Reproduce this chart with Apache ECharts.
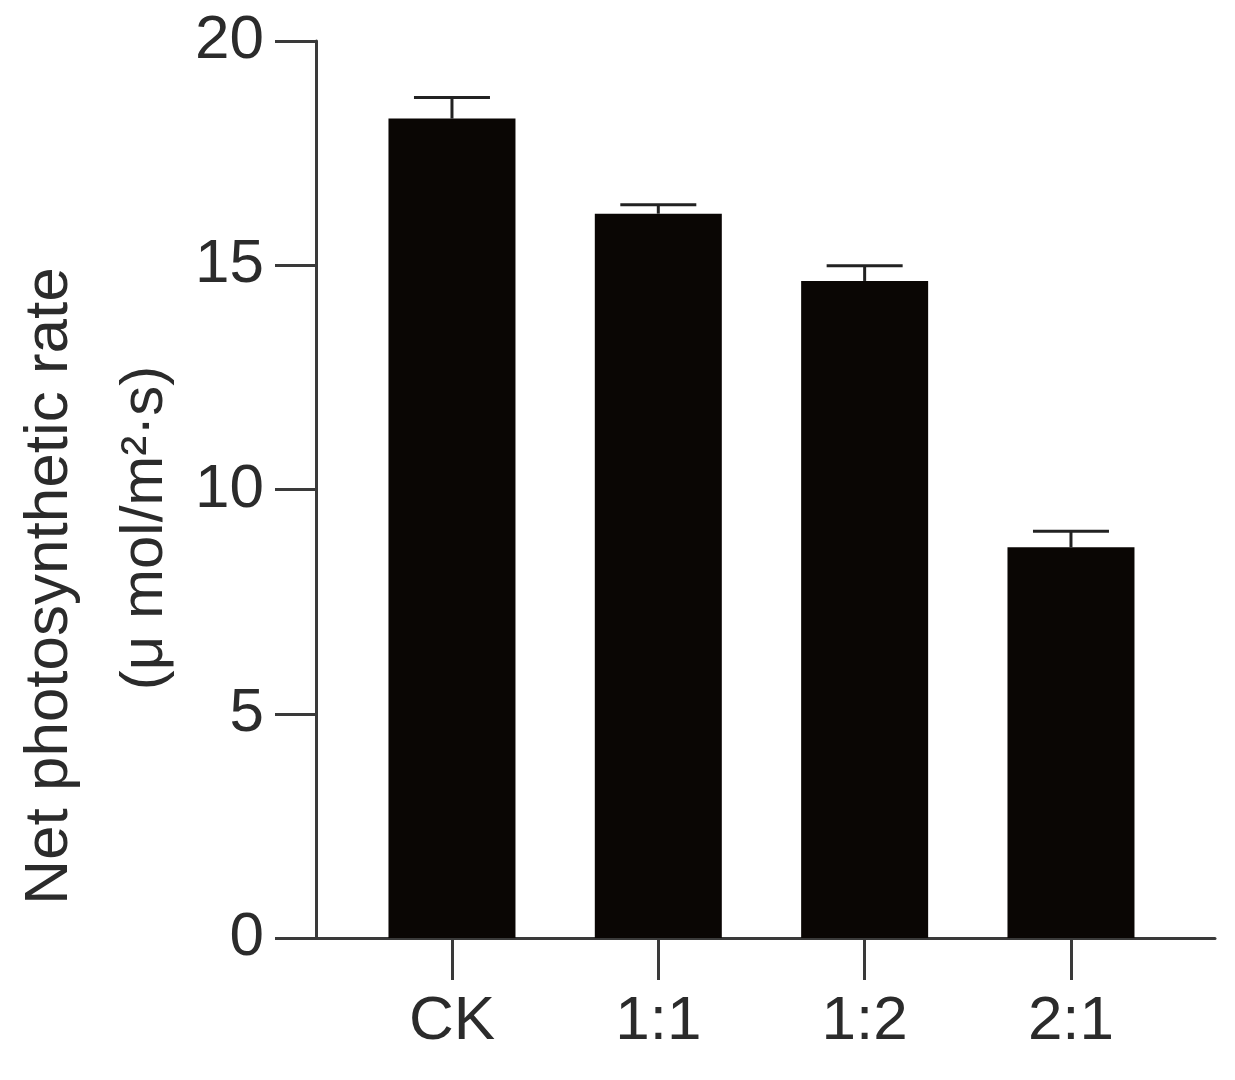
<!DOCTYPE html>
<html>
<head>
<meta charset="utf-8">
<script src="https://cdn.jsdelivr.net/npm/echarts@6/dist/echarts.min.js"></script>
<style>
  html, body { margin: 0; padding: 0; background: #fff; }
  #main { width: 1235px; height: 1080px; }
</style>
</head>
<body>
<div id="main"></div>
<script>
// values
var categories = ['CK', '1:1', '1:2', '2:1'];
var means = [18.27, 16.15, 14.65, 8.71];
var errors = [0.47, 0.20, 0.34, 0.36];
var yTicks = [0, 5, 10, 15, 20];
var yTitle = 'Net photosynthetic rate';
var yUnit = '(\u03bc mol/m\u00b2\u00b7s)';

var catIdx = categories.map(function (c, i) { return i; });
var barData = means.map(function (m, i) { return [i, m]; });
var errData = means.map(function (m, i) { return [i, m, m + errors[i]]; });

var font = '"Liberation Sans", Arial, sans-serif';
var txt = '#2b2b2b';
var axisCol = '#3a3a3a';

var myChart = echarts.init(document.getElementById('main'));
myChart.setOption({
  backgroundColor: '#fff',
  animation: false,
  grid: { left: 316, right: 20, top: 41, bottom: 142 },
  xAxis: {
    type: 'value',
    min: -0.659,
    max: 3.698,
    splitLine: { show: false },
    axisLine: { show: true, onZero: false, lineStyle: { color: axisCol, width: 3 } },
    axisTick: { show: true, customValues: catIdx, length: 42, lineStyle: { color: axisCol, width: 3 } },
    axisLabel: {
      customValues: catIdx,
      margin: 53,
      fontSize: 62, fontFamily: font, color: txt,
      formatter: function (v) { return categories[Math.round(v)]; }
    }
  },
  yAxis: {
    type: 'value',
    min: 0, max: 20, interval: 5,
    splitLine: { show: false },
    axisLine: { show: true, onZero: false, lineStyle: { color: axisCol, width: 3 } },
    axisTick: { show: true, length: 41, customValues: yTicks, lineStyle: { color: axisCol, width: 3 } },
    axisLabel: { customValues: yTicks, margin: 52, fontSize: 62, fontFamily: font, color: txt }
  },
  graphic: [
    { type: 'text', rotation: Math.PI / 2, x: 50, y: 586,
      style: { text: yTitle, font: '62px ' + font, fill: txt, align: 'center', verticalAlign: 'middle' } },
    { type: 'text', rotation: Math.PI / 2, x: 145, y: 528,
      style: { text: yUnit, font: '60px ' + font, fill: txt, align: 'center', verticalAlign: 'middle' } }
  ],
  series: [
    {
      type: 'bar',
      data: barData,
      barWidth: 127,
      itemStyle: { color: '#0a0604' }
    },
    {
      type: 'custom',
      data: errData,
      z: 5,
      renderItem: function (params, api) {
        var base = api.coord([api.value(0), api.value(1)]);
        var top = api.coord([api.value(0), api.value(2)]);
        var half = 38;
        var st = { stroke: '#222', lineWidth: 3 };
        return {
          type: 'group',
          children: [
            { type: 'line', shape: { x1: top[0], y1: base[1], x2: top[0], y2: top[1] }, style: st },
            { type: 'line', shape: { x1: top[0] - half, y1: top[1], x2: top[0] + half, y2: top[1] }, style: st }
          ]
        };
      }
    }
  ]
});
</script>
</body>
</html>
